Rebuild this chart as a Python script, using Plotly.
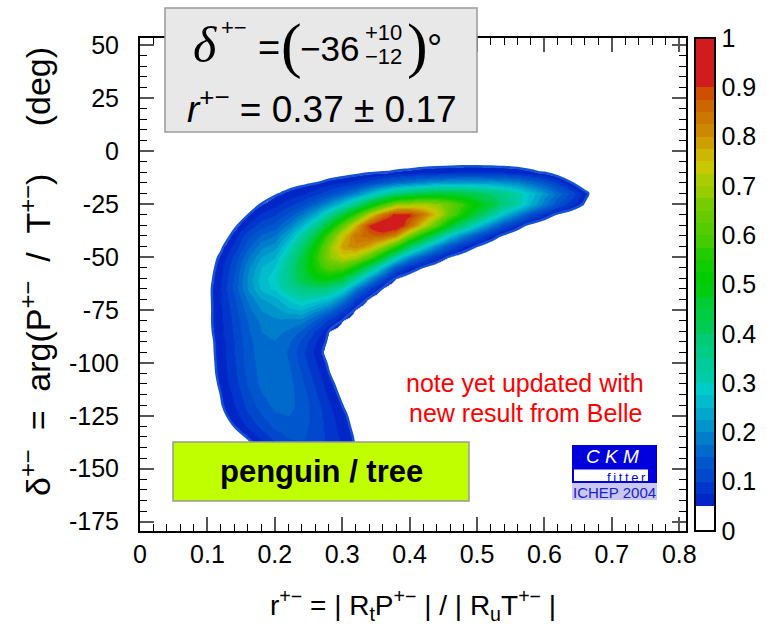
import plotly.graph_objects as go
import numpy as np

# ---------------- data ----------------
r_grid = [0.10, 0.12, 0.14, 0.16, 0.18, 0.20, 0.22, 0.24, 0.26, 0.28,
          0.30, 0.32, 0.34, 0.36, 0.38, 0.40, 0.42, 0.44, 0.46, 0.48,
          0.50, 0.52, 0.54, 0.56, 0.58, 0.60, 0.62, 0.64, 0.66, 0.68]
delta_grid = [-150, -145, -140, -135, -130, -125, -120, -115, -110, -105,
              -100, -95, -90, -85, -80, -75, -70, -65, -60, -55,
              -50, -45, -40, -35, -30, -25, -20, -15, -10, -5]

# confidence level in percent; one row per delta value (bottom to top)
cl_percent = [
    [0, 0, 0, 1.2, 2.4, 4.1, 5.9, 7.4, 8, 7.5, 6.2, 4.6, 2.2, 0, 0, 0, 0, 0, 0, 0, 0, 0, 0, 0, 0, 0, 0, 0, 0, 0],
    [0, 0.4, 1, 2.1, 3.9, 6.2, 8.4, 9.8, 9.9, 8.8, 7.0, 5.0, 2.4, 0, 0, 0, 0, 0, 0, 0, 0, 0, 0, 0, 0, 0, 0, 0, 0, 0],
    [0, 0.6, 1.5, 3.2, 5.7, 8.6, 11, 12, 11.3, 9.5, 7.2, 4.8, 2.2, 0, 0, 0, 0, 0, 0, 0, 0, 0, 0, 0, 0, 0, 0, 0, 0, 0],
    [0.6, 1.4, 2.9, 5.3, 8.2, 11, 12.8, 12.8, 11.5, 9.3, 6.8, 4.5, 2, 0, 0, 0, 0, 0, 0, 0, 0, 0, 0, 0, 0, 0, 0, 0, 0, 0],
    [1.4, 2.8, 5, 7.8, 10.8, 13.1, 14, 13.3, 11.5, 8.9, 6.3, 4.0, 1.5, 0, 0, 0, 0, 0, 0, 0, 0, 0, 0, 0, 0, 0, 0, 0, 0, 0],
    [2.0, 3.8, 6.4, 9.5, 12.4, 14.5, 15, 13.8, 11.5, 8.6, 5.8, 3.5, 1, 0, 0, 0, 0, 0, 0, 0, 0, 0, 0, 0, 0, 0, 0, 0, 0, 0],
    [2.5, 4.6, 7.5, 10.9, 13.9, 15.8, 15.8, 14.1, 11.2, 7.9, 5.0, 2.8, 0.5, 0, 0, 0, 0, 0, 0, 0, 0, 0, 0, 0, 0, 0, 0, 0, 0, 0],
    [2.7, 5.0, 8.2, 11.8, 14.9, 16.4, 15.9, 13.7, 10.3, 6.9, 4.1, 2.1, 0.3, 0, 0, 0, 0, 0, 0, 0, 0, 0, 0, 0, 0, 0, 0, 0, 0, 0],
    [2.9, 5.5, 9.0, 12.8, 15.8, 17, 15.9, 13.1, 9.5, 6.0, 3.4, 1.7, 0, 0, 0, 0, 0, 0, 0, 0, 0, 0, 0, 0, 0, 0, 0, 0, 0, 0],
    [3.2, 5.9, 9.5, 13.2, 16.1, 17, 15.6, 12.4, 8.6, 5.1, 2.7, 1.2, 0, 0, 0, 0, 0, 0, 0, 0, 0, 0, 0, 0, 0, 0, 0, 0, 0, 0],
    [3.3, 6.1, 9.8, 13.6, 16.3, 17, 15.1, 11.6, 7.7, 4.4, 2.2, 0.8, 0, 0, 0, 0, 0, 0, 0, 0, 0, 0, 0, 0, 0, 0, 0, 0, 0, 0],
    [3.4, 6.3, 10.1, 13.9, 16.5, 16.8, 14.6, 10.8, 6.7, 3.6, 1.6, 0.5, 0, 0, 0, 0, 0, 0, 0, 0, 0, 0, 0, 0, 0, 0, 0, 0, 0, 0],
    [3.5, 6.4, 10.2, 14.1, 16.8, 17.4, 15.5, 11.9, 7.6, 4.3, 2.0, 0.8, 0, 0, 0, 0, 0, 0, 0, 0, 0, 0, 0, 0, 0, 0, 0, 0, 0, 0],
    [3.8, 6.8, 10.6, 14.6, 17.5, 18.5, 17, 14.5, 9.6, 5.0, 3.1, 1.4, 0, 0, 0, 0, 0, 0, 0, 0, 0, 0, 0, 0, 0, 0, 0, 0, 0, 0],
    [3.9, 7.0, 10.9, 15.1, 18.3, 19.5, 19.5, 19, 14.5, 9.6, 5.0, 2.7, 0.4, 0, 0, 0, 0, 0, 0, 0, 0, 0, 0, 0, 0, 0, 0, 0, 0, 0],
    [3.8, 7.1, 11.6, 16.3, 20.1, 21.5, 24, 25, 21, 16.7, 10.1, 4.5, 1.4, 0.4, 0, 0, 0, 0, 0, 0, 0, 0, 0, 0, 0, 0, 0, 0, 0, 0],
    [3.8, 7.3, 12.3, 17.8, 22.3, 24, 28, 31, 29, 26.5, 18.6, 9.6, 4.1, 1.5, 0.3, 0, 0, 0, 0, 0, 0, 0, 0, 0, 0, 0, 0, 0, 0, 0],
    [3.7, 7.6, 13.5, 20.3, 26, 28.2, 33.6, 37, 39, 37, 30.8, 19.2, 10.2, 4.5, 1.4, 0.6, 0.2, 0, 0, 0, 0, 0, 0, 0, 0, 0, 0, 0, 0, 0],
    [3.3, 7.2, 13.2, 20.4, 26.5, 28.9, 35.8, 43.6, 49.5, 50.9, 45.7, 33.7, 21.5, 11.8, 4.9, 2.4, 1.3, 0.6, 0.2, 0, 0, 0, 0, 0, 0, 0, 0, 0, 0, 0],
    [2.9, 6.5, 12.2, 19.2, 25.1, 27.5, 35.6, 45, 54.7, 61.2, 61, 52, 38.9, 25.6, 13.8, 7.7, 4.6, 2.4, 1.2, 0.5, 0.2, 0, 0, 0, 0, 0, 0, 0, 0, 0],
    [2.4, 5.6, 10.8, 17.2, 22.7, 24.9, 33.2, 43.6, 56, 67.2, 73.2, 70.3, 60.6, 46.6, 31, 19.6, 13.1, 7.8, 4.4, 2.4, 1.2, 0.4, 0, 0, 0, 0, 0, 0, 0, 0],
    [1.6, 4.1, 8.4, 14.1, 19.2, 21.3, 29, 39.1, 52.3, 67, 79, 82, 78, 69, 57, 40, 29.3, 19.7, 12.6, 7.8, 4.7, 2.1, 0.8, 0.2, 0, 0, 0, 0, 0, 0],
    [0.5, 1.5, 6.5, 11.5, 15.5, 17.3, 23.8, 32.4, 44.5, 59.7, 75, 84, 87, 87, 82, 65.3, 52.3, 39.2, 27.9, 19.5, 13.3, 7.6, 3.8, 1.5, 0.4, 0.1, 0, 0, 0, 0],
    [0, 0.5, 3.8, 8, 11.5, 13.3, 18.3, 24.9, 34.4, 47.4, 62.6, 77, 91, 97, 96, 86, 73.9, 61, 47.6, 37, 28, 19.4, 12.3, 6.9, 3.2, 1.5, 0.5, 0.1, 0, 0],
    [0, 0, 2, 4.8, 8, 9.7, 13.2, 17.6, 24.2, 33.5, 45, 57.6, 72.7, 84, 92, 91, 84, 74.2, 63, 53.1, 43.9, 35, 26.3, 19.2, 12.3, 7.5, 3.9, 2.0, 0.5, 0],
    [0, 0, 0.8, 2.5, 5.0, 6.7, 9.0, 11.6, 15.5, 21.1, 28, 36.3, 47.6, 58.4, 68, 70.1, 70.8, 68.9, 64, 57.5, 51, 44.7, 37.8, 31.9, 24.9, 18.3, 12.7, 8.4, 4.4, 1],
    [0, 0, 0.3, 1, 2.5, 4.4, 5.7, 7.0, 9.0, 11.8, 15.1, 19.3, 25.5, 31.8, 38, 41.1, 43.9, 45.5, 45.6, 43.8, 41.5, 39, 35.7, 31.9, 26.8, 21.4, 16.7, 11.7, 6.2, 1.5],
    [0, 0, 0, 0.3, 1, 2.7, 3.4, 4.0, 4.7, 5.9, 7.1, 8.6, 11.2, 13.7, 16.2, 18, 19.8, 21.3, 22.3, 22.5, 22.4, 21.9, 20.9, 19.2, 16.3, 13.1, 9.2, 5.0, 0.7, 0],
    [0, 0, 0, 0, 0.3, 1.6, 1.9, 2.1, 2.3, 2.6, 3.0, 3.5, 4.2, 4.8, 5.4, 5.9, 6.6, 7.1, 7.4, 7.9, 8.0, 7.8, 7.5, 6.9, 5.7, 4.4, 2.2, 0.6, 0, 0],
    [0, 0, 0, 0, 0, 0.9, 1, 1, 1, 1, 1.2, 1.4, 1.7, 2.0, 2.2, 2.4, 2.5, 2.6, 2.6, 2.6, 2.6, 2.5, 2.3, 2.0, 1.5, 1.0, 0.3, 0, 0, 0],
]

x_tick_vals = [0, 0.1, 0.2, 0.3, 0.4, 0.5, 0.6, 0.7, 0.8]
x_tick_text = ['0', '0.1', '0.2', '0.3', '0.4', '0.5', '0.6', '0.7', '0.8']
y_tick_vals = [50, 25, 0, -25, -50, -75, -100, -125, -150, -175]
y_tick_text = ['50', '25', '0', '-25', '-50', '-75', '-100', '-125', '-150', '-175']
cb_tick_vals = [0, 0.1, 0.2, 0.3, 0.4, 0.5, 0.6, 0.7, 0.8, 0.9, 1.0]
cb_tick_text = ['0', '0.1', '0.2', '0.3', '0.4', '0.5', '0.6', '0.7', '0.8', '0.9', '1']
cb_separators = [0.1, 0.2, 0.3, 0.4, 0.5, 0.6, 0.7, 0.8, 0.9]

# ---------------- style ----------------
FONT = 'Liberation Sans, Arial, Helvetica, sans-serif'
SERIF = 'Liberation Serif, Times New Roman, serif'
NB = '\u00a0'
TH = '\u2009'

palette = ['#FFFFFF', '#FFFFFF', '#0026C8', '#0036CC', '#0048CC', '#0056CC', '#006ACC', '#007ECC',
           '#0094CC', '#00A8CC', '#00BCCC', '#00CCCC', '#00CCAA', '#00CC99', '#00CC88', '#00CC77',
           '#00CC55', '#00CC44', '#00CC33', '#00CC11', '#00CC00', '#11CC00', '#22CC00', '#44CC00',
           '#55CC00', '#66CC00', '#77CC00', '#99CC00', '#AACC00', '#C8C800', '#CCB800', '#CCA000',
           '#CC8800', '#CC7700', '#CC6600', '#CC5000', '#D01C1C', '#D01C1C', '#D01C1C', '#D01C1C']
n = len(palette)
cscale = []
for i, c in enumerate(palette):
    cscale.append([i / n, c])
    cscale.append([(i + 1) / n, c])

# plot area in pixels
PL, PT, PW, PH = 140, 38, 546, 493


def px(x):
    return (x - PL) / PW


def py(y):
    return (PT + PH - y) / PH


z = np.array(cl_percent) / 100.0

fig = go.Figure()
fig.add_trace(go.Heatmap(
    x=r_grid, y=delta_grid, z=z, zmin=0, zmax=1, zsmooth='best',
    colorscale=cscale, hoverinfo='skip',
    colorbar=dict(x=px(695), xanchor='left', xpad=0, y=0.5, yanchor='middle',
                  len=1, lenmode='fraction', ypad=0, thickness=20, thicknessmode='pixels',
                  outlinewidth=2, outlinecolor='black', tickmode='array',
                  tickvals=cb_tick_vals, ticktext=cb_tick_text, ticks='',
                  tickfont=dict(family=FONT, size=25, color='black')),
))
fig.add_trace(go.Contour(
    x=r_grid, y=delta_grid, z=z, autocontour=False,
    contours=dict(start=0.05, end=0.05, size=0.01, coloring='none'),
    line=dict(color='#1552D4', width=2.5, smoothing=1.0),
    showscale=False, hoverinfo='skip',
))

axis_common = dict(showline=True, linecolor='black', linewidth=2, mirror='allticks',
                   showgrid=False, zeroline=False, ticks='inside', ticklen=14,
                   tickwidth=1.5, tickcolor='#555555',
                   tickfont=dict(family=FONT, size=25, color='black'))
fig.update_xaxes(range=[0, 0.81], tickmode='array', tickvals=x_tick_vals, ticktext=x_tick_text,
                 minor=dict(tickmode='linear', tick0=0, dtick=0.02, ticks='inside', ticklen=7,
                            tickwidth=1, tickcolor='black'),
                 ticklabelstandoff=0, **axis_common)
fig.update_yaxes(range=[-179.4, 53.3], tickmode='array', tickvals=y_tick_vals, ticktext=y_tick_text,
                 minor=dict(tickmode='linear', tick0=0, dtick=5, ticks='inside', ticklen=7,
                            tickwidth=1, tickcolor='black'),
                 ticklabelstandoff=14, **axis_common)

shapes = []


def rect(x0, y0, x1, y1, fill, line=None, lw=1.5):
    shapes.append(dict(type='rect', xref='paper', yref='paper', layer='above',
                       x0=px(x0), x1=px(x1), y0=py(y1), y1=py(y0), fillcolor=fill,
                       line=dict(color=line if line else fill, width=lw if line else 0)))


rect(165, 8, 477, 132, '#E8E8E8', '#999999')
rect(173, 442, 469, 501, '#C0FF00', '#999999')
rect(572, 445, 657, 483, '#0000DD')
rect(574, 469.5, 648, 481, '#FFFFFF')
rect(572, 483, 657, 500, '#C8C8F2')
for v in cb_separators:
    shapes.append(dict(type='line', xref='paper', yref='paper', layer='above',
                       x0=px(695), x1=px(716), y0=v, y1=v, line=dict(color='black', width=1.5)))

annotations = []


def ann(text, x, y, size, color='black', family=FONT, xanchor='center', textangle=0, pad=1):
    annotations.append(dict(text=text, x=px(x), y=py(y), xref='paper', yref='paper',
                            showarrow=False, xanchor=xanchor, yanchor='middle',
                            textangle=textangle, borderpad=pad,
                            font=dict(size=size, color=color, family=family)))


# axis titles
ann('δ<sup>+−</sup>' + NB * 2 + '=' + NB * 2 + 'arg(P<sup>+−</sup>' + NB * 2 + '/' + NB * 2 +
    'T<sup>+−</sup>)' + NB * 5 + '(deg)', 35, 272, 34, textangle=-90)
ann('r<sup>+−</sup> = | R<sub>t</sub>P<sup>+−</sup> | / | R<sub>u</sub>T<sup>+−</sup> |',
    413, 605, 28)

# result box
ann('<i>δ</i>', 191, 45, 50, family=SERIF, xanchor='left')
ann('+−', 219, 28, 22, xanchor='left')
ann('=', 256, 48, 38, xanchor='left')
ann('(', 279, 45, 62, family=SERIF, xanchor='left')
ann('−36', 361, 48, 35, xanchor='right')
ann('+10', 363, 32, 22, xanchor='left')
ann('−12', 363, 57, 22, xanchor='left')
ann(')', 405, 45, 62, family=SERIF, xanchor='left')
ann('°', 425, 48, 38, xanchor='left')
ann('<i>r</i><sup>+−</sup> = 0.37 ± 0.17', 322, 106, 37)

# labels
ann('<b>penguin / tree</b>', 321, 471, 31)
ann('note yet updated with', 525, 383, 25, color='#FF0000')
ann('new result from Belle', 525, 413, 25, color='#FF0000')

# logo
ann('<i>C K M</i>', 612, 456, 19, color='white', pad=0)
ann(TH.join('fitter'), 626, 477, 13, color='#0000DD', pad=0)
ann('ICHEP 2004', 614, 492, 15, color='#2020C8', pad=0)

fig.update_layout(width=767, height=633, autosize=False,
                  margin=dict(l=PL, r=767 - PL - PW, t=PT, b=633 - PT - PH, pad=0),
                  plot_bgcolor='white', paper_bgcolor='white', showlegend=False,
                  shapes=shapes, annotations=annotations,
                  font=dict(family=FONT, color='black'))

fig.write_html('out.html')
